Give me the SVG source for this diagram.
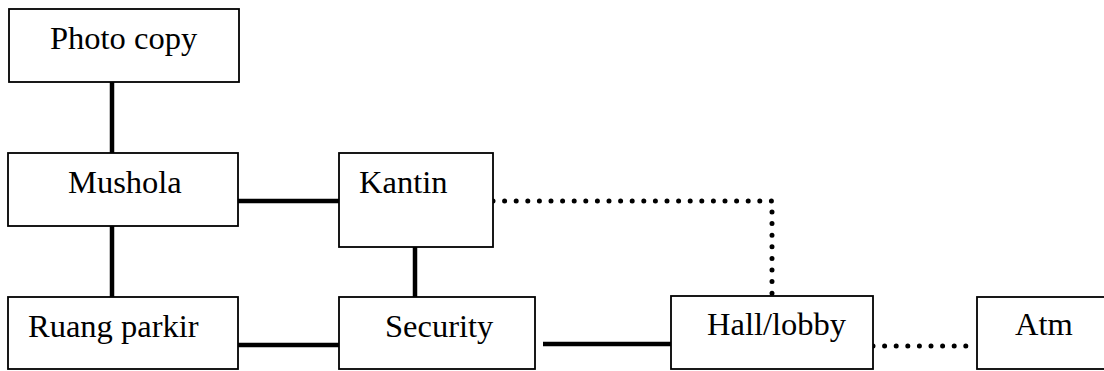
<svg xmlns="http://www.w3.org/2000/svg" width="1104" height="371" viewBox="0 0 1104 371">
<style>
.box{fill:#fff;stroke:#000;stroke-width:1.8}
.lbl{font-family:"Liberation Serif","Times New Roman",serif;font-size:32.5px;fill:#000}
.solid{stroke:#000;stroke-width:4.5;fill:none}
.dot{stroke:#000;stroke-width:5;fill:none;stroke-linecap:round;stroke-dasharray:0 11.6}
</style>
<rect width="1104" height="371" fill="#fff"/>
<g id="connectors">
<line class="solid" x1="112" y1="82" x2="112" y2="153"/>
<line class="solid" x1="112" y1="226" x2="112" y2="297"/>
<line class="solid" x1="238" y1="201" x2="339" y2="201"/>
<line class="solid" x1="238" y1="345" x2="339" y2="345"/>
<line class="solid" x1="415" y1="247" x2="415" y2="297"/>
<line class="solid" x1="543" y1="344" x2="671" y2="344"/>
<polyline class="dot" points="493,201 772,201 772,297"/>
<line class="dot" x1="873" y1="346" x2="977" y2="346"/>
</g>
<g id="photocopy"><rect class="box" x="9" y="9" width="230" height="73"/><text class="lbl" x="50" y="49">Photo copy</text></g>
<g id="mushola"><rect class="box" x="8" y="153" width="230" height="73"/><text class="lbl" x="68" y="193">Mushola</text></g>
<g id="kantin"><rect class="box" x="339" y="153" width="154" height="94"/><text class="lbl" x="359" y="193">Kantin</text></g>
<g id="ruangparkir"><rect class="box" x="8" y="297" width="230" height="72"/><text class="lbl" x="28" y="337">Ruang parkir</text></g>
<g id="security"><rect class="box" x="339" y="297" width="196" height="72"/><text class="lbl" x="385" y="337">Security</text></g>
<g id="hall"><rect class="box" x="671" y="296" width="202" height="73"/><text class="lbl" x="707" y="335">Hall/lobby</text></g>
<g id="atm"><rect class="box" x="977" y="297" width="140" height="72"/><text class="lbl" x="1015" y="335">Atm</text></g>
</svg>
